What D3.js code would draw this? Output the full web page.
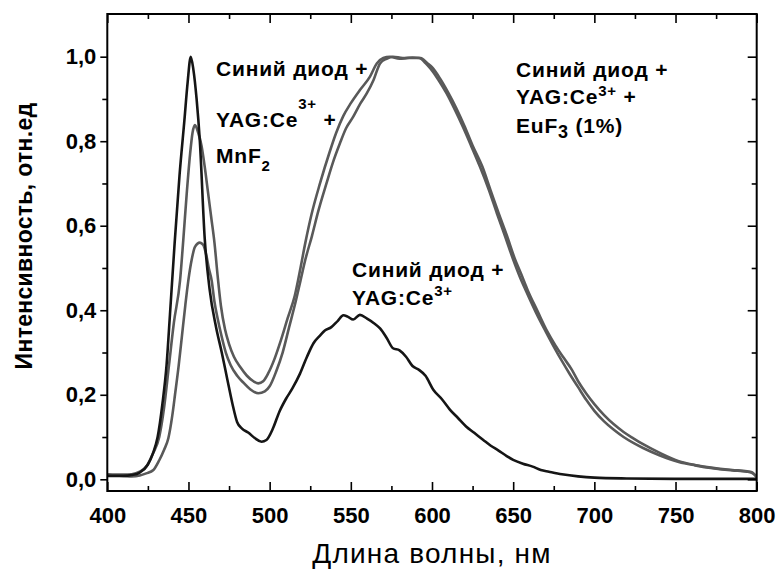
<!DOCTYPE html>
<html><head><meta charset="utf-8">
<script src="https://cdn.jsdelivr.net/npm/d3@7"></script>
<style>
body{margin:0;background:#fff}
svg{display:block}
text{font-family:"Liberation Sans",Arial,sans-serif;fill:#000}
</style>
</head><body>
<svg id="chart" width="778" height="572"></svg>
<script>
// ---- data ----
const xMajorTicks = [400,450,500,550,600,650,700,750,800];
const xMinorTicks = [425,475,525,575,625,675,725,775];
const yMajorTicks = [0,0.2,0.4,0.6,0.8,1.0];
const yMinorTicks = [0.1,0.3,0.5,0.7,0.9];
const yTickLabels = ["0,0","0,2","0,4","0,6","0,8","1,0"];

// Синий диод + YAG:Ce3+
const blueYAG = [[400,0.008],[410,0.008],[415,0.01],[420,0.016],[425,0.035],[428,0.06],[431,0.1],[434,0.18],[436.5,0.27],[438.6,0.39],[441.5,0.56],[444.5,0.72],[447.5,0.85],[449.5,0.94],[451.4,1.0],[453,0.97],[455,0.9],[457,0.8],[460,0.57],[463,0.45],[467,0.36],[470.5,0.3],[474,0.235],[477,0.18],[480,0.135],[483,0.12],[487,0.11],[491,0.097],[495,0.089],[498,0.093],[502,0.12],[506,0.16],[510,0.19],[514,0.215],[518.7,0.25],[523,0.29],[527,0.322],[531,0.34],[534,0.352],[538,0.36],[542,0.375],[545.4,0.388],[548,0.385],[551.5,0.378],[555.6,0.389],[560,0.38],[564,0.37],[568,0.357],[572,0.335],[576,0.31],[580,0.305],[584,0.29],[588,0.268],[592,0.259],[596,0.245],[600.8,0.212],[606,0.19],[611,0.165],[616,0.145],[621,0.125],[626,0.11],[631.6,0.093],[636,0.08],[641,0.068],[646,0.055],[650,0.046],[656,0.037],[662,0.03],[667,0.022],[672,0.018],[680,0.012],[690,0.007],[700,0.004],[720,0.002],[750,0.001],[800,0.001]];

// Синий диод + YAG:Ce3+ + MnF2
const blueYAGMnF2 = [[400,0.012],[410,0.011],[415,0.012],[420,0.018],[424,0.03],[428,0.06],[432,0.1],[435,0.17],[438,0.27],[441,0.37],[444.8,0.47],[446.8,0.566],[449,0.68],[451,0.77],[452.5,0.82],[454,0.838],[456,0.82],[458,0.79],[460,0.74],[462,0.68],[464,0.62],[466,0.56],[468,0.48],[470,0.41],[472.5,0.355],[475,0.32],[478,0.29],[482,0.265],[486,0.245],[490,0.232],[493,0.227],[496,0.232],[499,0.25],[503,0.285],[507,0.33],[511,0.38],[515.5,0.435],[519,0.5],[522,0.56],[526,0.63],[531,0.7],[537,0.775],[541,0.82],[545.4,0.86],[550,0.89],[555.6,0.921],[561.8,0.953],[566,0.984],[570,0.997],[574,1.0],[580,0.995],[586,0.997],[592,0.997],[596,0.985],[599,0.972],[604,0.945],[609,0.913],[614,0.875],[619,0.834],[624,0.79],[629.5,0.74],[635,0.685],[640,0.629],[645,0.575],[650,0.52],[654,0.48],[658,0.445],[664,0.395],[670,0.35],[675,0.314],[680,0.28],[685,0.248],[690,0.218],[695,0.188],[700,0.162],[706,0.137],[712,0.117],[718,0.1],[724,0.086],[730,0.074],[740,0.057],[752,0.041],[762,0.033],[773,0.026],[785,0.021],[794,0.018],[797,0.015],[800,0.006]];

// Синий диод + YAG:Ce3+ + EuF3 (1%)
const blueYAGEuF3 = [[400,0.01],[410,0.008],[415,0.007],[420,0.009],[424,0.014],[428.4,0.022],[432,0.045],[435,0.07],[437.6,0.097],[440,0.15],[441.7,0.2],[444,0.27],[446,0.34],[448,0.41],[449.9,0.47],[452,0.52],[454,0.55],[457,0.56],[459,0.555],[461,0.53],[462.5,0.5],[464.3,0.47],[466,0.42],[468,0.38],[470,0.345],[473,0.3],[476,0.27],[480,0.245],[484,0.228],[488,0.213],[493,0.2035],[497,0.208],[500,0.22],[504,0.255],[508,0.3],[512,0.36],[516,0.42],[519,0.47],[522,0.52],[526,0.575],[530,0.635],[535,0.7],[539,0.75],[543.3,0.795],[547,0.83],[551.5,0.858],[556,0.89],[559.8,0.913],[564,0.945],[568,0.984],[572,0.995],[576,1.0],[582,0.997],[588,0.998],[593,0.997],[597,0.985],[600,0.975],[605,0.948],[610,0.915],[615,0.878],[620,0.836],[625,0.79],[631,0.74],[636,0.685],[641,0.63],[646,0.578],[651,0.522],[655,0.485],[659,0.447],[665,0.398],[671,0.35],[676,0.317],[681,0.288],[686,0.26],[690,0.232],[695,0.203],[700,0.178],[706,0.152],[712,0.13],[718,0.112],[724,0.097],[730,0.083],[740,0.063],[752,0.043],[762,0.034],[773,0.027],[785,0.022],[794,0.019],[797,0.017],[800,0.005]];

const xTitle = "Длина волны, нм";
const yTitle = "Интенсивность, отн.ед";

// ---- chart ----
const svg = d3.select("#chart");
const L = 107.3, R = 756.7, T = 14, B = 491;
const x = d3.scaleLinear().domain([400,800]).range([L,R]);
const y = d3.scaleLinear().domain([-0.0277,1.101]).range([B,T]);

const line = d3.line().x(d=>x(d[0])).y(d=>y(d[1])).curve(d3.curveMonotoneX);

svg.append("defs").append("clipPath").attr("id","plot")
  .append("rect").attr("x",L).attr("y",T).attr("width",R-L).attr("height",B-T);

const g = svg.append("g").attr("clip-path","url(#plot)");
[blueYAGEuF3, blueYAGMnF2].forEach(s=>{
  g.append("path").datum(s).attr("d",line).attr("fill","none")
   .attr("stroke","#595959").attr("stroke-width",2.6).attr("stroke-linejoin","round");
});
g.append("path").datum(blueYAG).attr("d",line).attr("fill","none")
  .attr("stroke","#151515").attr("stroke-width",2.6).attr("stroke-linejoin","round");

function styleAxis(sel){
  sel.select(".domain").remove();
  sel.selectAll(".tick line").attr("stroke","#000").attr("stroke-width",1.6);
}
svg.append("g").attr("transform",`translate(0,${B})`)
  .call(d3.axisBottom(x).tickValues(xMajorTicks).tickSize(-9).tickPadding(16).tickFormat(d3.format("d")))
  .call(styleAxis)
  .call(s=>s.selectAll("text").attr("font-size",22).attr("font-weight","bold").attr("dy","0.71em"));
svg.append("g").attr("transform",`translate(0,${B})`)
  .call(d3.axisBottom(x).tickValues(xMinorTicks).tickSize(-5).tickFormat(""))
  .call(styleAxis);
svg.append("g").attr("transform",`translate(0,${T})`)
  .call(d3.axisTop(x).tickValues(xMajorTicks).tickSize(-9).tickFormat(""))
  .call(styleAxis);
svg.append("g").attr("transform",`translate(0,${T})`)
  .call(d3.axisTop(x).tickValues(xMinorTicks).tickSize(-5).tickFormat(""))
  .call(styleAxis);
svg.append("g").attr("transform",`translate(${L},0)`)
  .call(d3.axisLeft(y).tickValues(yMajorTicks).tickSize(7).tickPadding(4).tickFormat((d,i)=>yTickLabels[i]))
  .call(styleAxis)
  .call(s=>s.selectAll("text").attr("font-size",22).attr("font-weight","bold"));
svg.append("g").attr("transform",`translate(${L},0)`)
  .call(d3.axisLeft(y).tickValues(yMinorTicks).tickSize(5).tickFormat(""))
  .call(styleAxis);
svg.append("g").attr("transform",`translate(${R},0)`)
  .call(d3.axisRight(y).tickValues(yMajorTicks).tickSize(-9).tickFormat(""))
  .call(styleAxis);
svg.append("g").attr("transform",`translate(${R},0)`)
  .call(d3.axisRight(y).tickValues(yMinorTicks).tickSize(-5).tickFormat(""))
  .call(styleAxis);

svg.append("rect").attr("x",L).attr("y",T).attr("width",R-L).attr("height",B-T)
  .attr("fill","none").attr("stroke","#000").attr("stroke-width",2);

svg.append("text").attr("x",(L+R)/2).attr("y",563).attr("text-anchor","middle")
  .attr("font-size",28).attr("letter-spacing",1.2).text(xTitle);
svg.append("text").attr("transform","translate(32,236) rotate(-90)").attr("text-anchor","middle")
  .attr("font-size",23).attr("font-weight","bold").attr("letter-spacing",0.3).text(yTitle);

const ann = svg.append("g").attr("font-weight","bold").attr("font-size",21).attr("letter-spacing",0.8);
function label(xp, yp, parts){
  const t = ann.append("text").attr("x",xp).attr("y",yp);
  parts.forEach(p=>{
    const ts = t.append("tspan").text(p.t);
    if(p.s) ts.attr("font-size",p.s);
    if(p.dy) ts.attr("dy",p.dy);
  });
}
label(216,76,[{t:"Синий диод +"}]);
label(216,127,[{t:"YAG:Ce"},{t:"3+",s:15,dy:-18},{t:" +",dy:18}]);
label(216,163,[{t:"MnF"},{t:"2",s:15,dy:8}]);

label(516,77,[{t:"Синий диод +"}]);
label(516,104,[{t:"YAG:Ce"},{t:"3+",s:15,dy:-8},{t:" +",dy:8}]);
label(516,133,[{t:"EuF"},{t:"3",s:18,dy:5},{t:" (1%)",dy:-5}]);

label(352,277,[{t:"Синий диод +"}]);
label(352,305,[{t:"YAG:Ce"},{t:"3+",s:15,dy:-9}]);
</script>
</body></html>
